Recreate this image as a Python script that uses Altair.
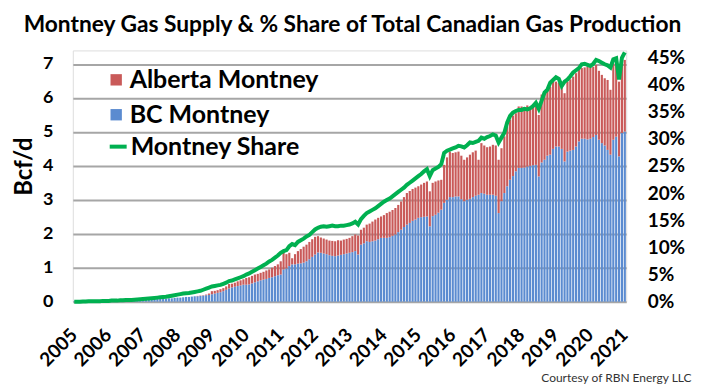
import altair as alt
import pandas as pd

# ---------------- data (Bcf/d, monthly Jan-2005 .. Jan-2021) ----------------
year_labels = [str(y) for y in range(2005, 2022)]

bc_montney = [
    0.01, 0.01, 0.01, 0.01, 0.01, 0.01, 0.02, 0.02, 0.02, 0.02, 0.02, 0.02,  # 2005
    0.02, 0.03, 0.03, 0.03, 0.03, 0.04, 0.04, 0.04, 0.04, 0.05, 0.05, 0.05,  # 2006
    0.05, 0.06, 0.06, 0.07, 0.07, 0.08, 0.08, 0.09, 0.09, 0.10, 0.10, 0.11,  # 2007
    0.12, 0.12, 0.13, 0.14, 0.14, 0.15, 0.16, 0.16, 0.17, 0.18, 0.19, 0.20,  # 2008
    0.22, 0.24, 0.26, 0.28, 0.31, 0.35, 0.39, 0.42, 0.44, 0.46, 0.48, 0.50,  # 2009
    0.50, 0.51, 0.54, 0.57, 0.60, 0.63, 0.65, 0.67, 0.70, 0.72, 0.75, 0.78,  # 2010
    0.80, 0.95, 0.98, 1.05, 1.10, 1.10, 1.12, 1.13, 1.15, 1.19, 1.25, 1.32,  # 2011
    1.39, 1.45, 1.44, 1.42, 1.40, 1.37, 1.35, 1.34, 1.36, 1.38, 1.40, 1.42,  # 2012
    1.44, 1.46, 1.49, 1.39, 1.68, 1.72, 1.78, 1.76, 1.78, 1.80, 1.84, 1.88,  # 2013
    1.88, 1.88, 1.90, 1.94, 1.98, 2.05, 2.12, 2.20, 2.27, 2.32, 2.38, 2.42,  # 2014
    2.47, 2.49, 2.50, 2.51, 2.22, 2.52, 2.56, 2.62, 2.71, 2.91, 3.00, 3.08,  # 2015
    3.08, 3.10, 3.10, 3.02, 2.96, 3.00, 3.03, 3.08, 3.12, 3.15, 3.20, 3.18,  # 2016
    3.15, 3.15, 3.15, 3.12, 2.61, 2.96, 3.20, 3.40, 3.59, 3.70, 3.84, 3.94,  # 2017
    3.94, 3.95, 3.98, 4.00, 4.02, 4.03, 3.69, 4.10, 4.18, 4.30, 4.33, 4.50,  # 2018
    4.57, 4.57, 4.50, 4.13, 4.42, 4.45, 4.47, 4.57, 4.72, 4.80, 4.80, 4.78,  # 2019
    4.80, 4.85, 4.91, 4.77, 4.67, 4.60, 4.47, 4.33, 4.77, 4.86, 4.28, 4.97,  # 2020
    5.01,                                                                    # 2021
]

alberta_montney = [
    0.00, 0.00, 0.00, 0.00, 0.00, 0.00, 0.00, 0.00, 0.00, 0.00, 0.00, 0.00,  # 2005
    0.00, 0.00, 0.00, 0.00, 0.00, 0.00, 0.00, 0.00, 0.00, 0.00, 0.00, 0.00,  # 2006
    0.00, 0.00, 0.00, 0.00, 0.00, 0.00, 0.00, 0.00, 0.00, 0.00, 0.00, 0.00,  # 2007
    0.00, 0.00, 0.00, 0.00, 0.00, 0.00, 0.00, 0.01, 0.01, 0.01, 0.02, 0.04,  # 2008
    0.09, 0.08, 0.08, 0.09, 0.09, 0.10, 0.13, 0.11, 0.12, 0.14, 0.15, 0.16,  # 2009
    0.20, 0.21, 0.22, 0.23, 0.22, 0.22, 0.23, 0.25, 0.25, 0.28, 0.30, 0.32,  # 2010
    0.39, 0.54, 0.42, 0.39, 0.18, 0.30, 0.37, 0.42, 0.47, 0.49, 0.51, 0.52,  # 2011
    0.52, 0.48, 0.45, 0.44, 0.43, 0.43, 0.44, 0.44, 0.45, 0.42, 0.43, 0.43,  # 2012
    0.44, 0.47, 0.49, 0.56, 0.44, 0.46, 0.49, 0.54, 0.58, 0.62, 0.63, 0.63,  # 2013
    0.67, 0.73, 0.75, 0.76, 0.78, 0.80, 0.83, 0.88, 0.93, 0.94, 0.94, 0.94,  # 2014
    0.93, 0.96, 1.00, 1.03, 1.03, 0.98, 0.98, 0.95, 0.88, 1.12, 1.25, 1.34,  # 2015
    1.30, 1.30, 1.32, 1.28, 1.22, 1.25, 1.30, 1.32, 1.33, 1.03, 1.47, 1.42,  # 2016
    1.40, 1.42, 1.47, 1.48, 1.57, 1.56, 1.67, 1.76, 1.77, 1.78, 1.71, 1.81,  # 2017
    1.81, 1.77, 1.80, 1.74, 1.74, 1.77, 1.81, 2.00, 2.00, 1.95, 2.00, 1.98,  # 2018
    1.91, 1.88, 1.80, 2.01, 2.06, 2.10, 2.16, 2.16, 2.15, 2.08, 2.10, 2.14,  # 2019
    2.10, 2.07, 2.06, 2.03, 2.01, 1.98, 2.06, 1.91, 2.25, 2.09, 2.20, 2.10,  # 2020
    2.11,                                                                    # 2021
]

# Montney share of total Canadian gas production, %
montney_share = [
    0.0, 0.0, 0.0, 0.05, 0.05, 0.1, 0.1, 0.1, 0.1, 0.1, 0.15, 0.15,          # 2005
    0.15, 0.2, 0.2, 0.2, 0.25, 0.25, 0.3, 0.3, 0.3, 0.35, 0.4, 0.45,         # 2006
    0.5, 0.55, 0.6, 0.65, 0.7, 0.75, 0.8, 0.85, 0.9, 1.0, 1.1, 1.2,          # 2007
    1.3, 1.4, 1.5, 1.55, 1.6, 1.7, 1.8, 1.9, 2.0, 2.2, 2.4, 2.6,             # 2008
    2.8, 2.9, 3.0, 3.1, 3.3, 3.5, 3.8, 3.9, 4.1, 4.3, 4.5, 4.7,              # 2009
    5.0, 5.2, 5.5, 5.8, 6.1, 6.4, 6.7, 7.0, 7.4, 7.7, 8.1, 8.5,              # 2010
    9.0, 9.3, 9.5, 10.2, 10.6, 10.4, 11.0, 11.3, 11.6, 12.0, 12.3, 12.8,     # 2011
    13.3, 13.6, 13.8, 13.9, 13.8, 13.9, 14.0, 13.9, 13.9, 14.0, 14.0, 14.1,  # 2012
    14.2, 14.4, 14.7, 14.2, 15.2, 15.8, 16.3, 16.6, 16.9, 17.2, 17.6, 18.0,  # 2013
    18.4, 18.7, 19.0, 19.4, 19.8, 20.2, 20.6, 21.0, 21.5, 21.9, 22.3, 22.7,  # 2014
    23.1, 23.5, 24.0, 24.4, 23.1, 24.2, 24.5, 24.8, 25.3, 27.4, 27.8, 28.0,  # 2015
    28.2, 28.4, 28.7, 28.6, 28.4, 28.8, 29.3, 29.2, 29.4, 29.6, 30.2, 30.0,  # 2016
    30.3, 30.5, 30.8, 30.6, 29.3, 30.2, 31.1, 33.0, 34.2, 34.8, 35.1, 35.3,  # 2017
    35.3, 35.5, 35.4, 35.6, 36.0, 36.6, 35.5, 37.0, 38.5, 39.0, 40.3, 40.8,  # 2018
    41.3, 41.0, 39.7, 40.5, 40.9, 41.5, 42.2, 42.6, 43.0, 43.7, 43.8, 43.6,  # 2019
    43.4, 43.8, 44.5, 44.3, 44.0, 43.7, 43.5, 43.1, 44.6, 44.8, 40.9, 44.9,  # 2020
    45.9,                                                                    # 2021
]

left_ticks = [0, 1, 2, 3, 4, 5, 6, 7]
right_ticks = [0, 5, 10, 15, 20, 25, 30, 35, 40, 45]

# ---------------- tables ----------------
n = len(bc_montney)
months = list(range(n))
bar_df = pd.DataFrame({
    "m": months + months,
    "series": ["BC Montney"] * n + ["Alberta Montney"] * n,
    "value": bc_montney + alberta_montney,
    "stackorder": [0] * n + [1] * n,
})
line_df = pd.DataFrame({"m": months, "share": montney_share,
                        "series": ["Montney Share"] * n})

FONT = "Lato"
RED = "#c95a59"
BLUE = "#5b8bd0"
GREEN = "#00b050"

label_array = "[" + ",".join("'" + s + "'" for s in year_labels) + "]"

x_enc = alt.X(
    "m:O",
    scale=alt.Scale(paddingInner=0.25, paddingOuter=0.125),
    axis=alt.Axis(
        values=[i * 12 for i in range(len(year_labels))],
        labelExpr=label_array + "[floor(datum.value / 12)]",
        labelAngle=-45, labelAlign="right", labelBaseline="middle",
        labelPadding=30, labelFont=FONT, labelFontSize=19,
        labelFontWeight="bold", labelColor="black",
        ticks=False, domain=False, grid=False,
        labelOverlap=False, labelBound=False,
        title="Courtesy of RBN Energy LLC", titleFont=FONT, titleFontSize=12,
        titleFontWeight="normal", titleColor="#333333",
        titleAlign="right", titleAnchor="end", titleX=620, titleY=76,
        titleBaseline="middle",
    ),
)

bars = alt.Chart(bar_df).mark_bar().encode(
    x=x_enc,
    y=alt.Y(
        "value:Q", stack="zero",
        scale=alt.Scale(domain=[0, 7.4], nice=False, zero=True),
        axis=alt.Axis(
            values=left_ticks, title="Bcf/d", titleFont=FONT, titleFontSize=24,
            titleFontWeight="bold", titleColor="black", titlePadding=6,
            titleY=116,
            labelFont=FONT, labelFontSize=18, labelFontWeight="bold",
            labelColor="black", labelPadding=20, ticks=False, domain=False,
            grid=True, gridColor="#a6a6a6", gridWidth=2,
        ),
    ),
    color=alt.Color(
        "series:N",
        scale=alt.Scale(domain=["Alberta Montney", "BC Montney"], range=[RED, BLUE]),
        legend=alt.Legend(
            orient="none", legendX=31, legendY=17, title=None,
            labelFont=FONT, labelFontSize=25, labelFontWeight="bold",
            labelColor="black", symbolType="square", symbolSize=130,
            symbolStrokeWidth=0, symbolOpacity=1, rowPadding=9,
            labelOffset=1, padding=0, labelLimit=400,
        ),
    ),
    order=alt.Order("stackorder:Q", sort="ascending"),
)

line = alt.Chart(line_df).mark_line(strokeWidth=4).encode(
    x=x_enc,
    y=alt.Y(
        "share:Q",
        scale=alt.Scale(domain=[0, 46.25], nice=False, zero=True),
        axis=alt.Axis(
            orient="right", values=right_ticks, labelExpr="datum.value + '%'",
            title=None, labelFont=FONT, labelFontSize=19,
            labelFontWeight="bold", labelColor="black", labelPadding=21,
            ticks=False, domain=False, grid=False,
        ),
    ),
    stroke=alt.Stroke(
        "series:N",
        scale=alt.Scale(domain=["Montney Share"], range=[GREEN]),
        legend=alt.Legend(
            orient="none", legendX=33, legendY=84, title=None,
            labelFont=FONT, labelFontSize=25, labelFontWeight="bold",
            labelColor="black", symbolType="stroke", symbolSize=289,
            symbolStrokeWidth=4, labelOffset=0, padding=0, labelLimit=400,
        ),
    ),
)

chart = alt.layer(bars, line).resolve_scale(
    y="independent", color="independent", stroke="independent"
).properties(
    width=555, height=252,
    title=alt.TitleParams(
        "Montney Gas Supply & % Share of Total Canadian Gas Production",
        font=FONT, fontSize=22.8, fontWeight="bold", color="black",
        anchor="middle", offset=8, dx=3, limit=0,
    ),
    autosize=alt.AutoSizeParams(type="none"),
    padding={"left": 65, "top": 42, "right": 75, "bottom": 84},
).configure_view(stroke=None).configure(background="white")

chart.save("out.html", embed_options={"renderer": "svg", "actions": False})
